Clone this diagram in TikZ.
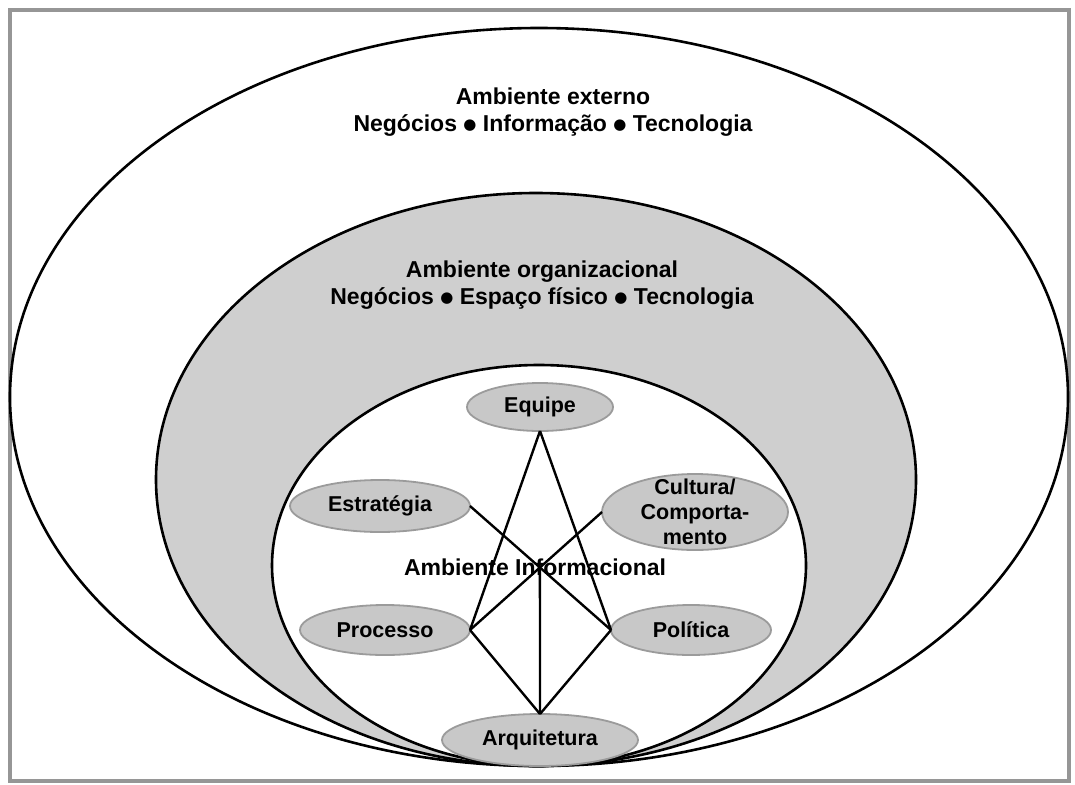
\documentclass[tikz,border=0pt]{standalone}
\usepackage{fontspec}
\setmainfont{Liberation Sans}
\newfontfamily\dejavu{DejaVu Sans}
\usetikzlibrary{shapes.geometric}
\definecolor{bigfill}{RGB}{207,207,207}
\definecolor{nodefill}{RGB}{200,200,200}
\definecolor{nodeline}{RGB}{155,155,155}
\definecolor{framegray}{RGB}{150,150,150}
\newcommand\bul{ \raisebox{2pt}{\dejavu\fontsize{15}{15}\selectfont ●} }
\tikzset{
  ring/.style={draw=black, line width=2.6pt},
  blob/.style={ellipse, draw=nodeline, fill=nodefill, line width=1.8pt, inner sep=0pt, outer sep=0pt},
  lbl/.style={font=\bfseries\fontsize{21.5}{25}\selectfont, align=center, inner sep=0pt},
  title/.style={font=\bfseries\fontsize{23}{27}\selectfont, align=center, inner sep=0pt},
  link/.style={draw=black, line width=2.4pt},
}
\begin{document}
\begin{tikzpicture}[x=1pt,y=-1pt]
\useasboundingbox (0,0) rectangle (1075,784);
\fill[white] (0,0) rectangle (1075,784);
\draw[framegray, line width=3.5pt] (10,10) rectangle (1069,781);
% nested environments
\node[ring, ellipse, fill=white, minimum width=1058pt, minimum height=738pt, inner sep=0pt] (ext) at (539,397) {};
\node[ring, ellipse, fill=bigfill, minimum width=760pt, minimum height=573pt, inner sep=0pt] (org) at (536,479.5) {};
\node[ring, ellipse, fill=white, minimum width=534pt, minimum height=401pt, inner sep=0pt] (inf) at (539,565.5) {};
% titles
\node[title] (t1) at (553,112) {Ambiente externo\\Negócios\bul Informação\bul Tecnologia};
\node[title] (t2) at (542,285) {Ambiente organizacional\\Negócios\bul Espaço físico\bul Tecnologia};
\node[title] (t3) at (535,567) {Ambiente Informacional};
% component ellipses (shapes)
\node[blob, minimum width=146pt, minimum height=48pt] (eq) at (540,407) {};
\node[blob, minimum width=180pt, minimum height=52pt] (est) at (380,506) {};
\node[blob, minimum width=186pt, minimum height=76pt] (cult) at (695,512) {};
\node[blob, minimum width=170pt, minimum height=50pt] (proc) at (385,630) {};
\node[blob, minimum width=160pt, minimum height=50pt] (pol) at (691,630) {};
\node[blob, minimum width=196pt, minimum height=52pt] (arq) at (540,740) {};
% connectors
\coordinate (x) at (intersection of est.east--pol.west and cult.west--proc.east);
\draw[link] (eq.south) -- (proc.east);
\draw[link] (eq.south) -- (pol.west);
\draw[link] (est.east) -- (pol.west);
\draw[link] (cult.west) -- (proc.east);
\draw[link] (proc.east) -- (arq.north);
\draw[link] (pol.west) -- (arq.north);
\draw[link] (x) -- (arq.north);
% labels
\node[lbl] at (eq) {Equipe};
\node[lbl] at (est) {Estratégia};
\node[lbl] at (cult) {Cultura/\\Comporta-\\mento};
\node[lbl] at (proc) {Processo};
\node[lbl] at (pol) {Política};
\node[lbl] at (arq) {Arquitetura};
\end{tikzpicture}
\end{document}
